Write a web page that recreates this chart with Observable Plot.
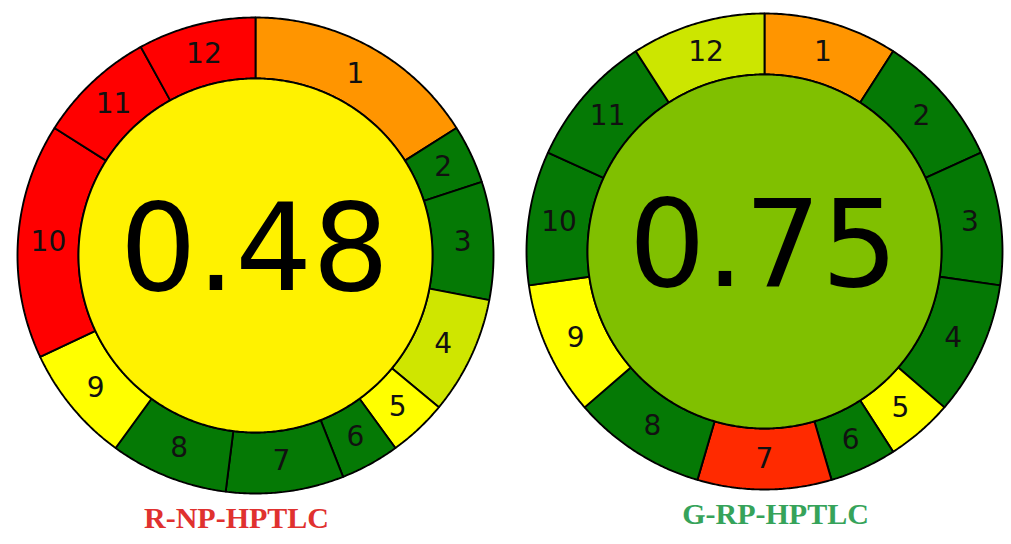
<!DOCTYPE html>
<html>
<head>
<meta charset="utf-8">
<script src="https://cdn.jsdelivr.net/npm/d3@7"></script>
<script src="https://cdn.jsdelivr.net/npm/@observablehq/plot@0.6"></script>
<style>
  body { margin: 0; background: #ffffff; }
  #chart svg { display: block; }
</style>
</head>
<body>
<div id="chart"></div>
<script>
// ---- Data ----
const criteria = ["1", "2", "3", "4", "5", "6", "7", "8", "9", "10", "11", "12"];

// R-NP-HPTLC (left)
const titleA = "R-NP-HPTLC";
const scoreA = "0.48";
const weightsA = [4, 1, 2, 2, 1, 1, 2, 2, 2, 4, 2, 2];
const colorsA = ["#ff9500", "#057905", "#057905", "#cfe600", "#ffff00", "#057905",
                 "#057905", "#057905", "#ffff00", "#ff0000", "#ff0000", "#ff0000"];
const centerColorA = "#fff200";
const titleColorA = "#e0312f";

// G-RP-HPTLC (right)
const titleB = "G-RP-HPTLC";
const scoreB = "0.75";
const weightsB = [2, 2, 2, 2, 1, 1, 2, 2, 2, 2, 2, 2];
const colorsB = ["#ff9500", "#057905", "#057905", "#057905", "#ffff00", "#057905",
                 "#ff2a00", "#057905", "#ffff00", "#057905", "#057905", "#cce600"];
const centerColorB = "#80c000";
const titleColorB = "#36a35a";

// ---- Layout ----
const W = 1011, H = 544;
const R_OUT = 238, R_IN = 177, R_LAB = 207.5;
const donuts = [
  {cx: 255, cy: 255, weights: weightsA, colors: colorsA, score: scoreA, center: centerColorA,
   title: titleA, titleColor: titleColorA, tx: 236, ty: 518},
  {cx: 764, cy: 251, weights: weightsB, colors: colorsB, score: scoreB, center: centerColorB,
   title: titleB, titleColor: titleColorB, tx: 775, ty: 514}
];

const segs = [], discs = [], labels = [], scores = [], titles = [];
const step = Math.PI / 360;
donuts.forEach((d, di) => {
  const total = d3.sum(d.weights);
  let acc = 0;
  d.weights.forEach((w, i) => {
    const a0 = acc / total * 2 * Math.PI;
    const a1 = (acc + w) / total * 2 * Math.PI;
    acc += w;
    const n = Math.max(2, Math.ceil((a1 - a0) / step));
    const pts = [];
    for (let k = 0; k <= n; k++) {
      const a = a0 + (a1 - a0) * k / n;
      pts.push([d.cx + R_OUT * Math.sin(a), d.cy - R_OUT * Math.cos(a)]);
    }
    for (let k = n; k >= 0; k--) {
      const a = a0 + (a1 - a0) * k / n;
      pts.push([d.cx + R_IN * Math.sin(a), d.cy - R_IN * Math.cos(a)]);
    }
    pts.push(pts[0]);
    pts.forEach(p => segs.push({x: p[0], y: p[1], id: `${di}-${i}`, fill: d.colors[i]}));
    const m = (a0 + a1) / 2;
    labels.push({x: d.cx + R_LAB * Math.sin(m), y: d.cy - R_LAB * Math.cos(m), text: criteria[i]});
  });
  const nd = 720;
  for (let k = 0; k <= nd; k++) {
    const a = 2 * Math.PI * k / nd;
    discs.push({x: d.cx + R_IN * Math.sin(a), y: d.cy - R_IN * Math.cos(a), id: `disc-${di}`, fill: d.center});
  }
  scores.push({x: d.cx - 1, y: d.cy - 4, text: d.score});
  titles.push({x: d.tx, y: d.ty, text: d.title, color: d.titleColor});
});

const chart = Plot.plot({
  width: W,
  height: H,
  margin: 0,
  style: {background: "#ffffff"},
  x: {domain: [0, W], range: [0, W], axis: null},
  y: {domain: [0, H], range: [0, H], axis: null},
  color: {type: "identity"},
  marks: [
    Plot.line(segs, {x: "x", y: "y", z: "id", fill: "fill", stroke: "#000000", strokeWidth: 1.9, strokeLinejoin: "miter"}),
    Plot.line(discs, {x: "x", y: "y", z: "id", fill: "fill", stroke: "#000000", strokeWidth: 1.9}),
    Plot.text(labels, {x: "x", y: "y", text: "text", fontSize: 28, fontFamily: "DejaVu Sans", fill: "#111111"}),
    Plot.text(scores, {x: "x", y: "y", text: "text", fontSize: 121, fontFamily: "DejaVu Sans", fill: "#000000"}),
    Plot.text(titles, {x: "x", y: "y", text: "text", fontSize: 30, fontFamily: "Liberation Serif", fontWeight: "bold", fill: "color"})
  ]
});
document.getElementById("chart").appendChild(chart);
</script>
</body>
</html>
